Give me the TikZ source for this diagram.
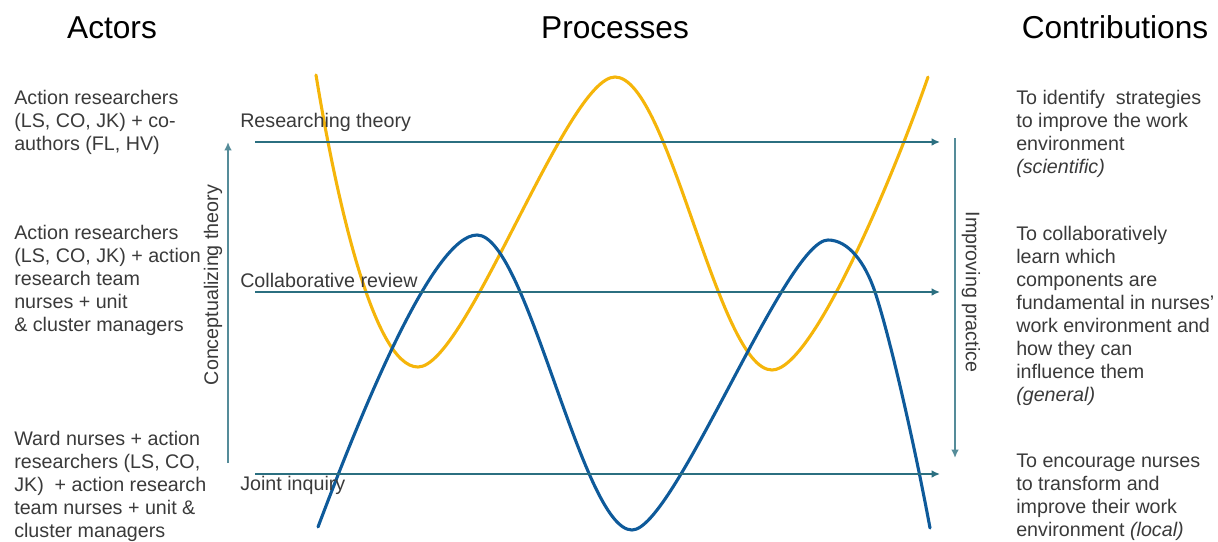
\documentclass[tikz,border=0pt]{standalone}
\usepackage{fontspec}
\setmainfont{Liberation Sans}
\usetikzlibrary{arrows.meta}

\definecolor{goldline}{HTML}{F5B50A}
\definecolor{blueline}{HTML}{0E5A9A}
\definecolor{tealline}{HTML}{2B6F80}
\definecolor{bodytext}{HTML}{3A3A3A}

\tikzset{
  heading/.style={font=\fontsize{22.5}{27}\selectfont, text=black, inner sep=0pt, anchor=base},
  actor/.style={font=\fontsize{14}{16.4}\selectfont, text=bodytext, align=left, inner sep=0pt, anchor=north west},
  levelarrow/.style={draw=tealline, line width=1.1pt, -{Latex[length=6pt,width=5.5pt]}},
  sidearrow/.style={draw=tealline!80, line width=1.2pt, -{Latex[length=6pt,width=5.5pt]}},
  wave/.style={line width=2.2pt, line cap=round}
}

\begin{document}
\begin{tikzpicture}[x=0.025cm, y=-0.025cm]
  \useasboundingbox (0,0) rectangle (1218,541);

  % column headings
  \node[heading] (hA) at (112,38) {Actors};
  \node[heading] (hP) at (615,38) {Processes};
  \node[heading] (hC) at (1115,38) {Contributions};

  % actors
  \node[actor] (act1) at (14,89.7) {Action researchers\\(LS, CO, JK) + co-\\authors (FL, HV)};
  \node[actor] (act2) at (14,224.7) {Action researchers\\(LS, CO, JK) + action\\research team\\nurses + unit\\\& cluster managers};
  \node[actor] (act3) at (14,431) {Ward nurses + action\\researchers (LS, CO,\\JK)~~+ action research\\team nurses + unit \&\\cluster managers};

  % contributions
  \node[actor] (con1) at (1016,89.7) {To identify~~strategies\\to improve the work\\environment\\\textit{(scientific)}};
  \node[actor] (con2) at (1016,225.7) {To collaboratively\\learn which\\components are\\fundamental in nurses'\\work environment and\\how they can\\influence them\\\textit{(general)}};
  \node[actor] (con3) at (1016,453.7) {To encourage nurses\\to transform and\\improve their work\\environment \textit{(local)}};

  % the two waves
  \draw[wave, goldline] (316,75) .. controls (334,185) and (372,367) .. (418,367)
    .. controls (466,367) and (567,77) .. (615,77)
    .. controls (669,77) and (718,370) .. (772,370)
    .. controls (814,370) and (898,164) .. (928,77);
  \draw[wave, blueline] (318,527) .. controls (358,421) and (432,235) .. (477,235)
    .. controls (527,235) and (582,530) .. (632,530)
    .. controls (674,530) and (786,240) .. (828,240)
    .. controls (848,240) and (865,262) .. (875,292)
    .. controls (890,337) and (915,447) .. (930,528);

  % process levels
  \coordinate (rt-s) at (255,142);
  \coordinate (rt-e) at (940,142);
  \coordinate (cr-s) at (255,292);
  \coordinate (cr-e) at (940,292);
  \coordinate (ji-s) at (255,474);
  \coordinate (ji-e) at (940,474);
  \draw[levelarrow] (rt-s) -- (rt-e);
  \draw[levelarrow] (cr-s) -- (cr-e);
  \draw[levelarrow] (ji-s) -- (ji-e);
  \node[actor, anchor=base west] (lblRT) at (240,127) {Researching theory};
  \node[actor, anchor=base west] (lblCR) at (240,287) {Collaborative review};
  \node[actor, anchor=base west] (lblJI) at (240,490) {Joint inquiry};

  % side arrows
  \coordinate (ct-s) at (228,463);
  \coordinate (ct-e) at (228,142);
  \coordinate (ip-s) at (955,138);
  \coordinate (ip-e) at (955,458);
  \draw[sidearrow] (ct-s) -- (ct-e);
  \draw[sidearrow] (ip-s) -- (ip-e);
  \node[actor, anchor=center, rotate=90] (lblCT) at (213,285) {Conceptualizing theory};
  \node[actor, anchor=center, rotate=-90] (lblIP) at (971,292) {Improving practice};
\end{tikzpicture}
\end{document}
